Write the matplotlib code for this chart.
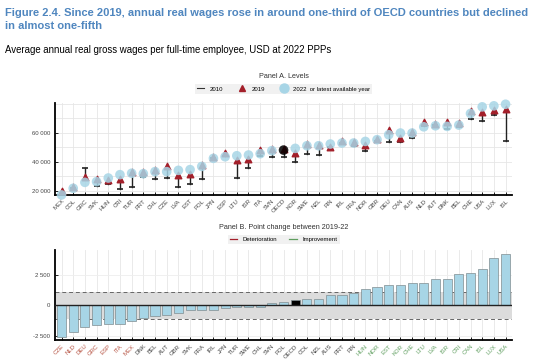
import matplotlib.pyplot as plt
import numpy as np
from matplotlib.lines import Line2D

# Panel A: levels, countries sorted by 2022 wage
countries_a = ["MEX", "COL", "GRC", "SVK", "HUN", "CRI", "TUR", "PRT", "CHL", "CZE",
               "LVA", "EST", "POL", "JPN", "ESP", "LTU", "ISR", "ITA", "SVN", "OECD",
               "KOR", "SWE", "NZL", "FIN", "IRL", "FRA", "NOR", "GBR", "DEU", "CAN",
               "AUS", "NLD", "AUT", "DNK", "BEL", "CHE", "USA", "LUX", "ISL"]
wage_2022 = [17000, 21600, 25700, 26200, 28700, 31000, 32000, 31700, 33100, 33100,
             34000, 34500, 36700, 42300, 43400, 44100, 44600, 45500, 47600, 48000,
             49200, 51000, 51000, 52200, 52900, 52900, 54000, 55200, 58600, 59800,
             59800, 64100, 64800, 64400, 65300, 73300, 77900, 78600, 79700]
wage_2019 = [19500, 22800, 29200, 27800, 27600, 27800, 33100, 32600, 34500, 37200,
             31000, 31500, 37800, 43200, 46000, 41100, 41800, 48300, 48700, 48500,
             46000, 52000, 51500, 50100, 54500, 53800, 51400, 56000, 62100, 56300,
             60800, 67100, 66000, 67100, 66500, 74700, 74500, 75600, 76700]
wage_2010 = [18500, 21500, 35400, 23000, 24600, 21000, 22800, 29700, 28000, 28700,
             22300, 24800, 28000, 42500, 44000, 28500, 35400, 43700, 43000, 43000,
             40000, 45300, 44600, 50000, 53000, 50600, 47600, 54000, 53300, 53300,
             56300, 65000, 65500, 62500, 64000, 69400, 67800, 72400, 54500]

# Panel B: change 2019-22, sorted
countries_b = ["CZE", "NLD", "DEU", "GRC", "ESP", "ITA", "MEX", "DNK", "BEL", "AUT",
               "GBR", "SVK", "FRA", "IRL", "JPN", "TUR", "SWE", "CHL", "SVN", "POL",
               "OECD", "COL", "NZL", "AUS", "PRT", "FIN", "HUN", "NOR", "EST", "KOR",
               "CHE", "LTU", "LVA", "ISR", "CRI", "CAN", "ISL", "LUX", "USA"]
change = [-2570, -2150, -1750, -1610, -1560, -1500, -1310, -1070, -850, -820,
          -655, -380, -355, -355, -190, -160, -160, -160, 165, 275,
          440, 490, 520, 820, 875, 1010, 1340, 1500, 1720, 1720,
          1830, 1830, 2160, 2210, 2590, 2680, 3000, 3880, 4260]
band = 1100
n_red = 7
n_green_start = 26

RED = "#a31f2a"
BLUE = "#a7d5e6"
GREEN = "#5f9e5f"
TITLE_BLUE = "#4f86bf"
TICK_GREY = "#444444"

plt.rcParams['font.family'] = ['Liberation Sans', 'DejaVu Sans']

fig = plt.figure(figsize=(5.35, 3.63), dpi=100)

fig.text(0.009, 0.977, "Figure 2.4. Since 2019, annual real wages rose in around one-third of OECD countries but declined\nin almost one-fifth",
         color=TITLE_BLUE, fontsize=8.0, fontweight="bold", va="top", ha="left", linespacing=1.3)
fig.text(0.009, 0.875, "Average annual real gross wages per full-time employee, USD at 2022 PPPs",
         fontsize=6.9, va="top", ha="left")

# ---- Panel A ----
ax1 = fig.add_axes([0.103, 0.463, 0.854, 0.253])
x = np.arange(len(countries_a))
for i in x:
    ax1.plot([i, i], [wage_2010[i], wage_2019[i]], color="#222222", lw=1.0, zorder=2)
ax1.scatter(x, wage_2010, marker="_", s=22, color="#222222", linewidths=1.2, zorder=3)
ax1.scatter(x, wage_2019, marker="^", s=22, color=RED, zorder=3, clip_on=False)
circ_colors = [BLUE] * len(x)
circ_colors[countries_a.index("OECD")] = "black"
ax1.scatter(x, wage_2022, marker="o", s=48, color=circ_colors, alpha=0.85, zorder=4,
            linewidths=0, clip_on=False)

ax1.set_xlim(-0.55, 38.55)
ax1.set_ylim(17000, 80500)
ax1.set_yticks([20000, 40000, 60000])
ax1.set_yticklabels(["20 000", "40 000", "60 000"])
ax1.set_yticks(np.arange(20000, 80001, 10000), minor=True)
ax1.set_xticks(x)
ax1.set_xticklabels(countries_a, rotation=45, ha="right", rotation_mode="anchor")
ax1.grid(True, which="both", color="#e6e6e6", lw=0.6)
ax1.set_axisbelow(True)
for s in ["top", "right"]:
    ax1.spines[s].set_visible(False)
for s in ["left", "bottom"]:
    ax1.spines[s].set_linewidth(1.3)
ax1.tick_params(axis="both", which="both", labelsize=4.3, labelcolor=TICK_GREY, length=2.5, width=0.6, direction="in")
ax1.tick_params(axis="y", which="minor", length=0)
ax1.tick_params(axis="x", pad=2.5)

fig.text(0.53, 0.79, "Panel A. Levels", fontsize=5.2, ha="center", va="center", color="#333333")
handles_a = [Line2D([], [], color="#333333", lw=0.8, marker=None),
             Line2D([], [], color=RED, marker="^", lw=0, markersize=4.5),
             Line2D([], [], color=BLUE, marker="o", lw=0, markersize=6.5)]
leg = fig.legend(handles_a, ["2010", "2019", "2022  or latest available year"],
                 loc="center", bbox_to_anchor=(0.53, 0.755), ncol=3, fontsize=4.3, frameon=True,
                 handlelength=1.2, columnspacing=2.5, borderpad=0.35, handletextpad=1.0)
leg.get_frame().set_facecolor("#eeeeee")
leg.get_frame().set_edgecolor("none")
leg.get_frame().set_boxstyle("square", pad=0)

# ---- Panel B ----
ax2 = fig.add_axes([0.103, 0.063, 0.854, 0.248])
xb = np.arange(len(countries_b))
bar_colors = [BLUE] * len(xb)
bar_colors[countries_b.index("OECD")] = "black"
ax2.axhspan(-band, band, color="#dcdcdc", zorder=1, lw=0)
ax2.axhline(band, color="#666666", lw=0.7, ls=(0, (4, 3)), zorder=2)
ax2.axhline(-band, color="#666666", lw=0.7, ls=(0, (4, 3)), zorder=2)
ax2.bar(xb, change, width=0.78, color=bar_colors, edgecolor="#7f8c90", linewidth=0.5, zorder=3)
ax2.axhline(0, color="#222222", lw=1.0, zorder=4)

ax2.set_xlim(-0.55, 38.55)
ax2.set_ylim(-2850, 4550)
ax2.set_yticks([-2500, 0, 2500])
ax2.set_yticklabels(["-2 500", "0", "2 500"])
ax2.set_xticks(xb)
ax2.set_xticklabels(countries_b, rotation=45, ha="right", rotation_mode="anchor")
for i, lab in enumerate(ax2.get_xticklabels()):
    if i < n_red:
        lab.set_color("#b5503f")
    elif i >= n_green_start:
        lab.set_color(GREEN)
    else:
        lab.set_color(TICK_GREY)
ax2.grid(True, axis="x", color="#e6e6e6", lw=0.6)
ax2.grid(True, axis="y", color="#eeeeee", lw=0.6)
ax2.set_axisbelow(True)
for s in ["top", "right"]:
    ax2.spines[s].set_visible(False)
for s in ["left", "bottom"]:
    ax2.spines[s].set_linewidth(1.3)
ax2.tick_params(axis="both", labelsize=4.3, length=2.5, width=0.6, direction="in")
ax2.tick_params(axis="y", labelcolor=TICK_GREY)
ax2.tick_params(axis="x", pad=2.5)

fig.text(0.53, 0.372, "Panel B. Point change between 2019-22", fontsize=5.2, ha="center", va="center", color="#333333")
handles_b = [Line2D([], [], color=RED, lw=0.9), Line2D([], [], color=GREEN, lw=0.9)]
leg2 = fig.legend(handles_b, ["Deterioration", "Improvement"],
                  loc="center", bbox_to_anchor=(0.53, 0.34), ncol=2, fontsize=4.3, frameon=True,
                  handlelength=1.2, columnspacing=2.0, borderpad=0.35, handletextpad=1.0)
leg2.get_frame().set_facecolor("#eeeeee")
leg2.get_frame().set_edgecolor("none")
leg2.get_frame().set_boxstyle("square", pad=0)

fig.savefig("out.png", dpi=100)
